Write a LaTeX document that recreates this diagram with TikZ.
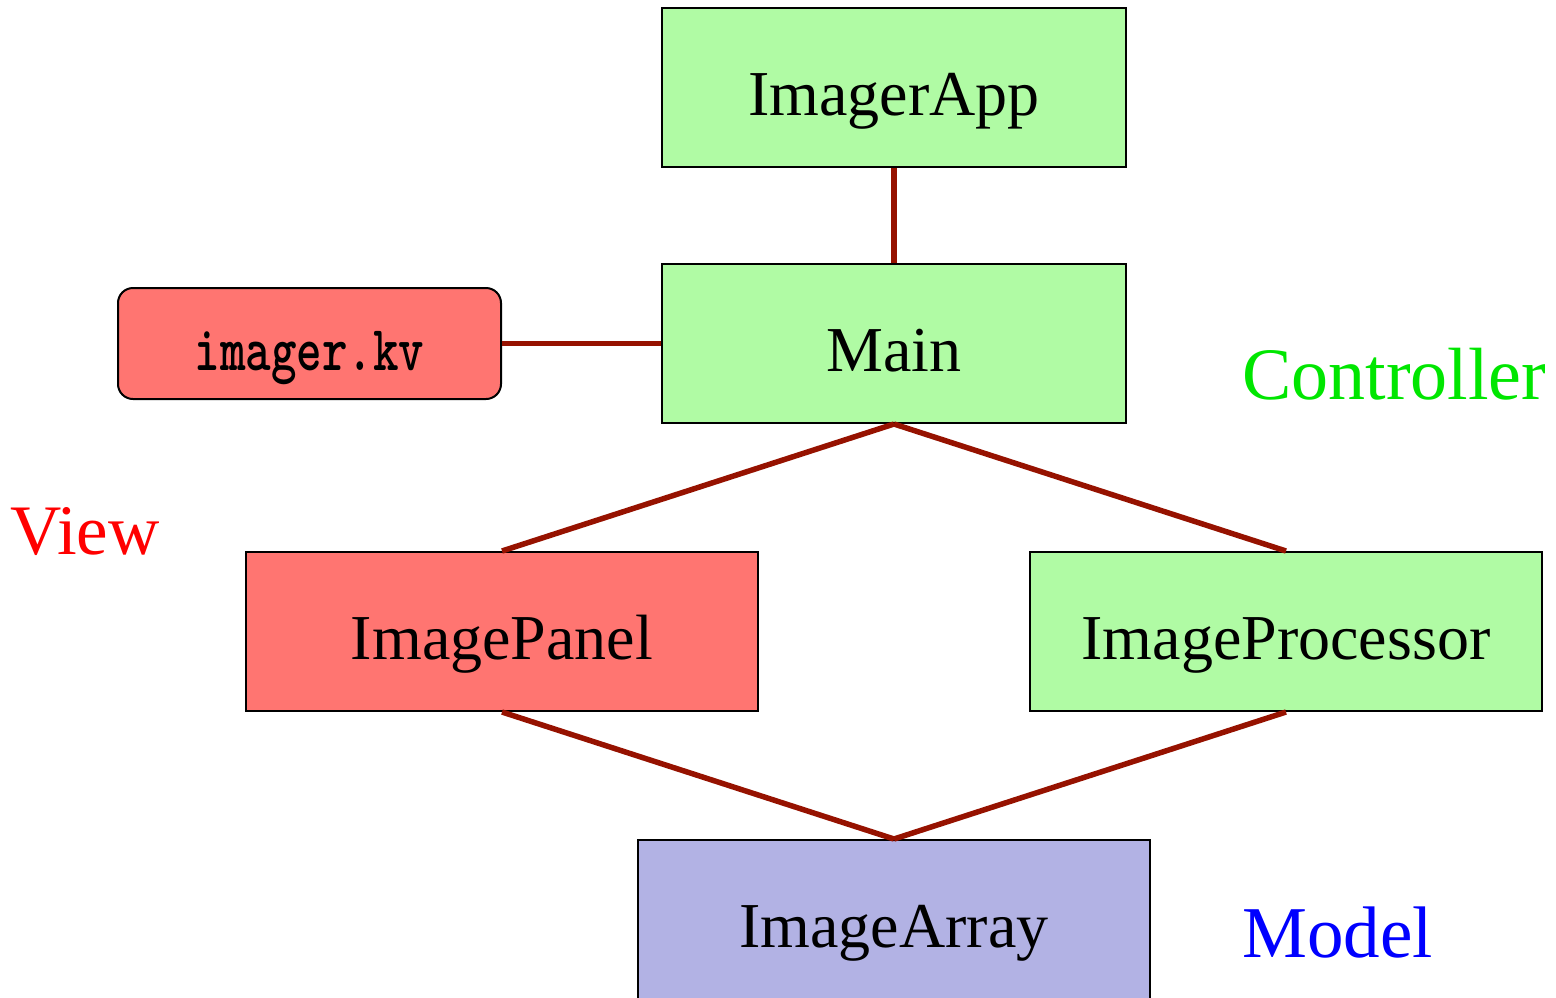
\documentclass[tikz,border=0pt]{standalone}
\usepackage{fontspec}
\setmainfont{Liberation Serif}
\definecolor{ctrlfill}{RGB}{176,251,164}
\definecolor{viewfill}{RGB}{255,117,113}
\definecolor{modelfill}{RGB}{178,178,228}
\definecolor{linkred}{RGB}{150,18,0}
\definecolor{ctrlgreen}{RGB}{0,230,0}
\tikzset{
  box/.style={draw=black, line width=2pt, rectangle, inner sep=0pt,
    minimum width=464pt, minimum height=159pt,
    text height=56pt, text depth=0pt,
    font=\fontsize{64}{70}\selectfont},
  widebox/.style={box, minimum width=512pt},
  ctrl/.style={fill=ctrlfill},
  viewc/.style={fill=viewfill},
  modelc/.style={fill=modelfill},
  kvbox/.style={draw=black, line width=2pt, rectangle, rounded corners=15pt,
    fill=viewfill, inner sep=0pt, minimum width=383pt, minimum height=111pt,
    text height=53pt, text depth=0pt,
    font=\fontsize{64}{70}\selectfont\ttfamily\bfseries},
  link/.style={draw=linkred, line width=5.5pt},
  layer/.style={anchor=base west, inner sep=0pt}
}
\begin{document}
\begin{tikzpicture}[x=1pt, y=-1pt]
  \clip (0,0) rectangle (1556,997);
  \useasboundingbox (0,0) rectangle (1556,997);

  % controller classes
  \node[box, ctrl] (app) at (894,87.5) {ImagerApp};
  \node[box, ctrl] (main) at (894,343.5) {Main};
  \node[widebox, ctrl] (proc) at (1286,631.5) {ImageProcessor};

  % view classes
  \node[kvbox] (kv) at (309.5,343.5) {\scalebox{0.76}[1]{imager.kv}};
  \node[widebox, viewc] (panel) at (502,631.5) {ImagePanel};

  % model class
  \node[widebox, modelc] (array) at (894,919.5) {ImageArray};

  % associations
  \draw[link] (app.south) -- (main.north);
  \draw[link] (kv.east) -- (main.west);
  \draw[link] (main.south) -- (panel.north);
  \draw[link] (main.south) -- (proc.north);
  \draw[link] (panel.south) -- (array.north);
  \draw[link] (proc.south) -- (array.north);

  % layer captions
  \node[layer, text=ctrlgreen, font=\fontsize{74}{80}\selectfont] (lctrl) at (1242,399) {Controller};
  \node[layer, text=red, font=\fontsize{71}{78}\selectfont] (lview) at (10,554) {View};
  \node[layer, text=blue, font=\fontsize{73}{80}\selectfont] (lmodel) at (1242,957) {Model};
\end{tikzpicture}
\end{document}
